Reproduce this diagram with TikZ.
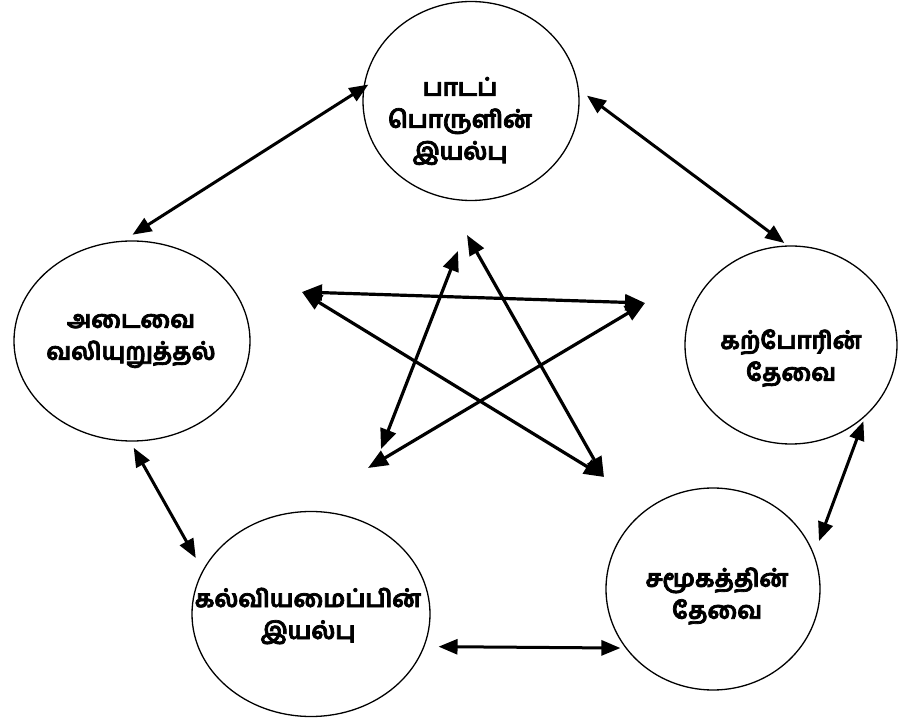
\documentclass[tikz,border=0pt]{standalone}
\usepackage{fontspec}
\newfontfamily\tamilfont[Script=Tamil, BoldFeatures={FakeBold=3}]{Hind Madurai}
\usetikzlibrary{arrows.meta,shapes.geometric}
\begin{document}
\begin{tikzpicture}[x=1pt,y=-1pt,
  circ/.style={draw, ellipse, line width=1.3pt, inner sep=0pt},
  lbl/.style={font=\tamilfont\bfseries\fontsize{24}{32}\selectfont, align=center, inner sep=0pt},
  dbl/.style={line width=3pt, {Triangle[length=19pt,width=15pt]}-{Triangle[length=19pt,width=15pt]}},
  star/.style={line width=3.2pt, {Triangle[length=20pt,width=16pt]}-{Triangle[length=20pt,width=16pt]}}
  ]
\useasboundingbox (0,0) rectangle (898,719);
\fill[white] (0,0) rectangle (898,719);
% circles
\node[circ, minimum width=216pt, minimum height=199pt] (top) at (471,101) {};
\node[circ, minimum width=212pt, minimum height=198pt] (kp) at (791,345) {};
\node[circ, minimum width=214pt, minimum height=202pt] (sam) at (713,589) {};
\node[circ, minimum width=238pt, minimum height=205pt] (kal) at (311,614) {};
\node[circ, minimum width=236pt, minimum height=200pt] (adai) at (132,341) {};
% labels
\node[lbl] (topt) at (460,121) {பாடப்\\பொருளின்\\இயல்பு};
\node[lbl] (kpt) at (791,358) {கற்போரின்\\தேவை};
\node[lbl] (samt) at (717,596) {சமூகத்தின்\\தேவை};
\node[lbl] (kalt) at (308,616) {கல்வியமைப்பின்\\இயல்பு};
\node[lbl] (adait) at (131,341) {அடைவை\\வலியுறுத்தல்};
% outer arrows
\draw[dbl, shorten <=11pt, shorten >=-6pt] (adai.95) -- (top.173);
\draw[dbl, shorten <=10pt, shorten >=4pt] (top.6) -- (kp.92);
\draw[dbl, shorten <=5pt, shorten >=14pt] (kp.-44) -- (sam.19);
\draw[dbl, shorten <=7pt, shorten >=14pt] (adai.-91) -- (kal.158);
\draw[dbl, shorten <=14pt, shorten >=5pt] (kal.-16) -- (sam.214);
% star
\coordinate (sL) at (302,292);
\coordinate (sR) at (645,303);
\coordinate (sT1) at (467,235);
\coordinate (sT2) at (458,251);
\coordinate (sBL1) at (381,449);
\coordinate (sBL2) at (368,468);
\coordinate (sBR) at (604,477);
\draw[star] (sL) -- (sR);
\draw[star] (sL) -- (sBR);
\draw[star] (sT1) -- (sBR);
\draw[star] (sT2) -- (sBL1);
\draw[star] (sR) -- (sBL2);
\end{tikzpicture}
\end{document}
